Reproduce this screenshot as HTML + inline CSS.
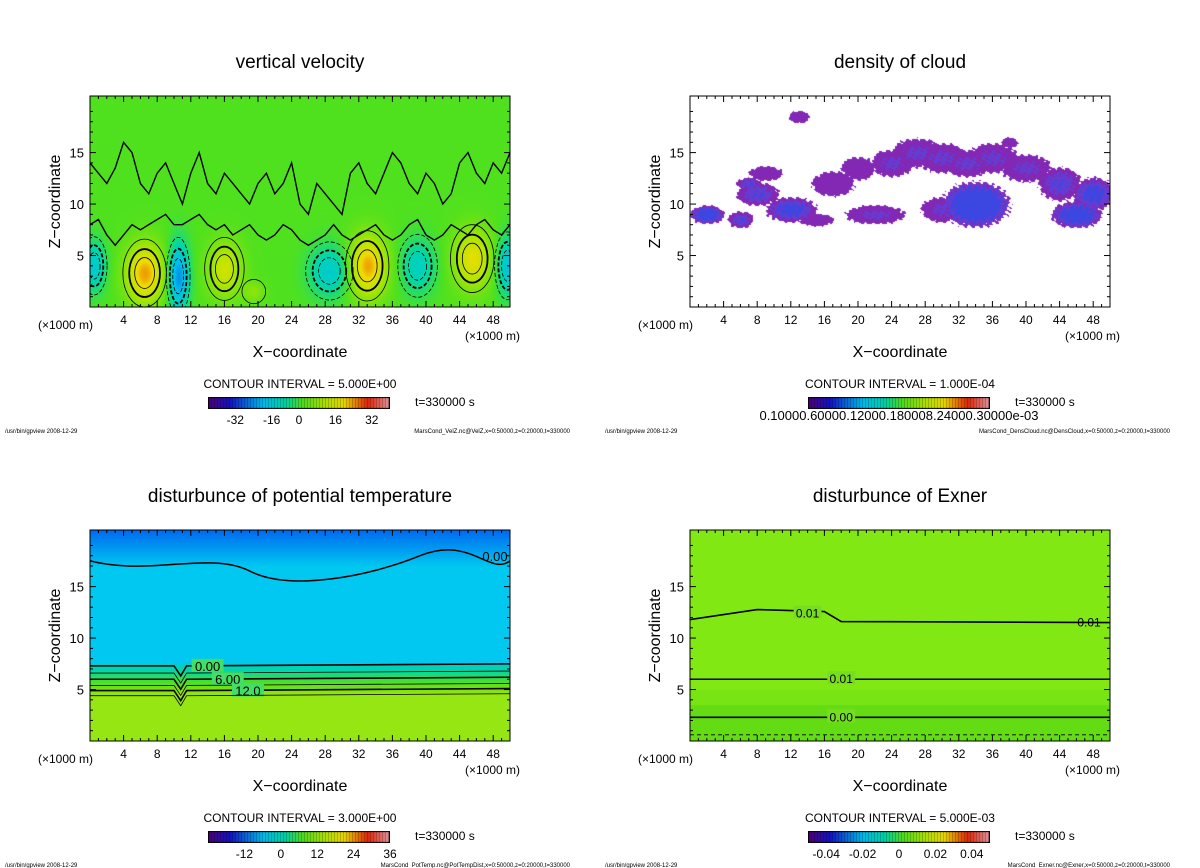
<!DOCTYPE html>
<html><head><meta charset="utf-8">
<style>
body{margin:0;background:#fff;width:1200px;height:868px;position:relative;overflow:hidden;font-family:"Liberation Sans",sans-serif}
canvas{position:absolute}
svg{position:absolute;left:0;top:0}
</style></head>
<body>
<canvas id="c1" style="left:90px;top:96px" width="420" height="211"></canvas>
<canvas id="c2" style="left:690px;top:96px" width="420" height="211"></canvas>
<canvas id="c3" style="left:90px;top:530px" width="420" height="211"></canvas>
<canvas id="c4" style="left:690px;top:530px" width="420" height="211"></canvas>
<canvas id="cb1" style="left:208px;top:397px" width="182" height="12"></canvas>
<canvas id="cb2" style="left:808px;top:397px" width="182" height="12"></canvas>
<canvas id="cb3" style="left:208px;top:831px" width="182" height="12"></canvas>
<canvas id="cb4" style="left:808px;top:831px" width="182" height="12"></canvas>
<svg id="s" width="1200" height="868"><defs><clipPath id="clip"><rect x="0" y="0" width="420" height="211"/></clipPath></defs></svg>
<script>
// ---- data ----
const xTicks=[4,8,12,16,20,24,28,32,36,40,44,48];
const zTicks=[5,10,15];
const titles=["vertical velocity","density of cloud","disturbunce of potential temperature","disturbunce of Exner"];
const intervals=["5.000E+00","1.000E-04","3.000E+00","5.000E-03"];
const files=["MarsCond_VelZ.nc@VelZ,x=0:50000,z=0:20000,t=330000","MarsCond_DensCloud.nc@DensCloud,x=0:50000,z=0:20000,t=330000","MarsCond_PotTemp.nc@PotTempDist,x=0:50000,z=0:20000,t=330000","MarsCond_Exner.nc@Exner,x=0:50000,z=0:20000,t=330000"];
const cbLabels=[["-32","-16","0","16","32"],["0.10000.60000.12000.180008.24000.30000e-03"],["-12","0","12","24","36"],["-0.04","-0.02","0","0.02","0.04"]];
const cbPos=[[0.15,0.35,0.5,0.7,0.9],[0.5],[0.2,0.4,0.6,0.8,1.0],[0.1,0.3,0.5,0.7,0.9]];
// velocity blobs
const velX=[6.5,16,33,45.5,19.5,10.5,28.5,39,49.7,0.5];
const velZ=[3.3,3.7,4.0,4.7,1.5,3.0,3.5,4.0,4.0,4.0];
const velA=[22,14,22,17,6,-22,-13,-11,-15,-13];
const velSX=[2.2,2.0,2.2,2.2,1.2,1.2,2.4,2.0,1.3,1.3];
const velSZ=[2.8,2.6,2.9,2.8,1.0,3.2,2.4,2.6,2.8,2.4];
// zero contour height profiles (z at x=0,1,...,50)
const velZero=[14,13,12,13.5,16,15,12,11,13,14,12,10,13,15,12,11,13,12,11,10,12,13,11,12,14,10,9,12,11,10,9,13,14,12,11,13,15,14,12,11,13,12,10,11,14,15,13,12,14,13,15];
const velZero2=[8,8.5,7,6,7,8,7.5,8,8.5,9,8,8,8.5,9,8,7.5,8,7,7.5,8,7,6.5,7,8,7.5,6.5,6,6.5,7,8,7,6.5,7,7.5,8,7,6.5,7,8,8.5,7,6.5,7,8,7.5,7,8,8.5,7.5,7,8];
// cloud blobs
const cldX=[2,6,8,12,9,17,20,24,27,30,33,36,40,44,48,30,34,13,22,38,46,7,15];
const cldZ=[9,8.5,11,9.5,13,12,13.5,14,15,14.5,14,14.5,13.5,12,11,9.5,10,18.5,9,16,9,12,8.5];
const cldW=[2,1.5,2.5,3,2,2.5,2,2.5,3,3,3,3,3,2.5,2.5,2.5,4,1.2,3.5,1,3,1.5,2];
const cldH=[0.9,0.8,1.1,1.2,0.7,1.2,1.1,1.3,1.4,1.4,1.3,1.4,1.3,1.6,1.6,1.2,2.2,0.6,0.9,0.5,1.3,0.6,0.6];
const cldI=[0.8,0.6,0.6,0.7,0.4,0.4,0.4,0.5,0.5,0.5,0.5,0.5,0.5,0.6,0.7,0.5,0.9,0.3,0.5,0.3,0.8,0.6,0.4];
const ptLevels=[7.3,6.6,6.0,5.4,4.9,4.4];
const ptLabels=["0.00","","6.00","","12.0",""];
const exLevels=[11.8,6.0,2.3,0.6];
const exLabels=["0.01","0.01","0.00",""];
// ---- helpers ----
const W=420,H=211,XM=50,ZM=20.5;
const sx=x=>x/XM*W, sz=z=>H-z/ZM*H;
const NS='http://www.w3.org/2000/svg';
const svg=document.getElementById('s');
function el(tag,attrs,parent){const e=document.createElementNS(NS,tag);for(const k in attrs)e.setAttribute(k,attrs[k]);(parent||svg).appendChild(e);return e;}
function txt(x,y,s,size,anchor,name,parent){const t=el('text',{x:x,y:y,'font-size':size,'text-anchor':anchor||'middle','font-family':'Liberation Sans, sans-serif',fill:'#000'},parent);t.textContent=s;return t;}
function rainbow(t){t=Math.max(0,Math.min(1,t));
 const st=[[0,[80,0,120]],[0.12,[20,20,200]],[0.3,[0,190,240]],[0.42,[0,215,170]],[0.52,[80,225,30]],[0.65,[180,230,0]],[0.75,[240,220,0]],[0.88,[230,40,10]],[1,[230,150,160]]];
 for(let i=1;i<st.length;i++){if(t<=st[i][0]){const a=st[i-1],b=st[i];const f=(t-a[0])/(b[0]-a[0]);return a[1].map((v,j)=>Math.round(v+(b[1][j]-v)*f));}}return st[st.length-1][1];}
function fill(id,fn){const c=document.getElementById(id).getContext('2d');const im=c.createImageData(W,H);
 for(let j=0;j<H;j++)for(let i=0;i<W;i++){const x=i/W*XM,z=(H-j)/H*ZM;const col=fn(x,z);const k=(j*W+i)*4;im.data[k]=col[0];im.data[k+1]=col[1];im.data[k+2]=col[2];im.data[k+3]=255;}
 c.putImageData(im,0,0);}
function velAt(x,z){let v=0;for(let k=0;k<velX.length;k++){const dx=(x-velX[k])/velSX[k],dz=(z-velZ[k])/velSZ[k];v+=velA[k]*Math.exp(-(dx*dx+dz*dz));}return v;}
fill('c1',(x,z)=>rainbow(0.52+velAt(x,z)/80));
fill('c2',(x,z)=>{let v=0;for(let k=0;k<cldX.length;k++){const dx=(x-cldX[k])/cldW[k],dz=(z-cldZ[k])/cldH[k];const d=dx*dx+dz*dz+0.25*Math.sin(x*7+z*5)*Math.sin(z*9);if(d<1)v=Math.max(v,cldI[k]*(1-d*0.6)+0.3);}
 if(v===0)return[255,255,255];return v>0.9?[60,70,225]:(v>0.75?[100,60,210]:[130,40,180]);});
fill('c3',(x,z)=>{if(z<4.5)return[150,230,20];if(z<7.5){const f=(z-4.5)/3;return rainbow(0.62-f*0.25);}
 const top=z>17?(z-17)/3:0;return [0,Math.round(200-top*80),240];});
fill('c4',(x,z)=>z<3.5?[100,220,20]:(z<5?[120,228,20]:[130,232,20]));
['cb1','cb2','cb3','cb4'].forEach(id=>{const c=document.getElementById(id).getContext('2d');for(let i=0;i<182;i++){const col=rainbow(i/181);const d=(i%3===0)?0.7:1;c.fillStyle=`rgb(${col.map(v=>Math.round(v*d)).join(',')})`;c.fillRect(i,0,1,12);}c.strokeStyle='#000';c.strokeRect(0.5,0.5,181,11);});
const panels=[[90,96],[690,96],[90,530],[690,530]];
const clipped=[];
panels.forEach((p,n)=>{
 const g=el('g',{transform:`translate(${p[0]},${p[1]})`});
 const cg=el('g',{'clip-path':'url(#clip)'},g);clipped.push(cg);
 const fr=el('rect',{x:0,y:0,width:W,height:H,fill:'none',stroke:'#000','stroke-width':1},g);
 xTicks.forEach(t=>{el('line',{x1:sx(t),x2:sx(t),y1:H,y2:H-6,stroke:'#000'},g);el('line',{x1:sx(t),x2:sx(t),y1:0,y2:6,stroke:'#000'},g);txt(sx(t),H+17,String(t),12,'middle','x-tick-label',g);});
 for(let t=1;t<50;t++)if(t%4){el('line',{x1:sx(t),x2:sx(t),y1:H,y2:H-3,stroke:'#000'},g);el('line',{x1:sx(t),x2:sx(t),y1:0,y2:3,stroke:'#000'},g);}
 zTicks.forEach(t=>{el('line',{x1:0,x2:6,y1:sz(t),y2:sz(t),stroke:'#000'},g);el('line',{x1:W,x2:W-6,y1:sz(t),y2:sz(t),stroke:'#000'},g);txt(-6,sz(t)+5,String(t),13,'end','z-tick-label',g);});
 for(let t=1;t<20;t++)if(t%5){el('line',{x1:0,x2:3,y1:sz(t),y2:sz(t),stroke:'#000'},g);el('line',{x1:W,x2:W-3,y1:sz(t),y2:sz(t),stroke:'#000'},g);}
 txt(-52,H+22,'(×1000 m)',12,'start','x-unit-left',g);
 txt(W+10,H+33,'(×1000 m)',12,'end','x-unit-right',g);
 txt(W/2,H+50,'X−coordinate',16,'middle','x-axis-title',g);
 const yt=txt(0,0,'Z−coordinate',16,'middle','y-axis-title',g);yt.setAttribute('transform',`translate(-30,${H/2}) rotate(-90)`);
 txt(W/2,-28,titles[n],19,'middle','chart-title',g);
 txt(W/2,H+81,'CONTOUR INTERVAL = '+intervals[n],12,'middle','contour-interval-label',g);
 txt(325,H+99,'t=330000 s',12,'start','time-label',g);
 const L=cbLabels[n],P=cbPos[n];L.forEach((s,i)=>txt(118+P[i]*182,H+(n===1?113:117),s,n===1?13:12,'middle','colorbar-tick-label',g));
 txt(-85,H+126,'/usr/bin/gpview  2008-12-29',6,'start','footer-program',g);
 txt(480,H+126,files[n],6,'end','footer-file',g);
});
// velocity contours
const g1=clipped[0];
velX.forEach((x,k)=>{const a=velA[k];[0.35,0.6,0.85].forEach((f,i)=>{if(Math.abs(a)*Math.sqrt(f)<5)return;const s=Math.sqrt(-Math.log(1-f+0.1));
 const e=el('ellipse',{cx:sx(x),cy:sz(velZ[k]),rx:velSX[k]*s*W/XM,ry:velSZ[k]*s*H/ZM,fill:'none',stroke:'#000','stroke-width':i===1?1.8:0.8,'stroke-dasharray':a<0?'4,2':'none'},g1);});});
[velZero,velZero2].forEach(arr=>{let d='M0,'+sz(arr[0]);arr.forEach((z,i)=>{d+=` L${sx(i)},${sz(z)}`;});
const zl=el('path',{d:d,fill:'none',stroke:'#000','stroke-width':1.4},g1);});
// potential temp contours
const g3=clipped[2];
ptLevels.forEach((z,i)=>{const y=sz(z);const l=el('path',{d:`M0,${y} L${sx(10)},${y} L${sx(10.8)},${y+10} L${sx(11.5)},${y} L${W},${y-2}`,fill:'none',stroke:'#000','stroke-width':i%2?0.8:1.6},g3);
 if(ptLabels[i]){const bx=sx(14+i*1.2);el('rect',{x:bx-16,y:y-7,width:32,height:13,fill:'#4d6'},g3);txt(bx,y+5,ptLabels[i],13,'middle','pottemp-contour-label',g3);}});
const up=el('path',{d:`M0,${sz(17.5)} C60,${sz(16)} 120,${sz(18.5)} 160,${sz(16.5)} S280,${sz(16)} 330,${sz(18)} S400,${sz(16)} ${W},${sz(17.5)}`,fill:'none',stroke:'#000','stroke-width':1.5},g3);
txt(405,sz(17.5),'0.00',13,'middle','pottemp-contour-label',g3);
// exner contours
const g4=clipped[3];
exLevels.forEach((z,i)=>{const y=sz(z);const dd=i===0?`M0,${y} L${sx(8)},${y-10} L${sx(16)},${y-8} L${sx(18)},${y+2} L${W},${y+3}`:`M0,${y} L${W},${y}`;
 const l=el('path',{d:dd,fill:'none',stroke:'#000','stroke-width':i===3?0.8:1.6,'stroke-dasharray':i===3?'4,3':'none'},g4);
 if(exLabels[i]){const bx=i===0?sx(14):sx(18);el('rect',{x:bx-14,y:y-8+(i===0?-6:0),width:28,height:13,fill:'#7d2'},g4);txt(bx,y+4+(i===0?-6:0),exLabels[i],12,'middle','exner-contour-label',g4);}});
txt(sx(47.5),sz(11.8)+7,'0.01',12,'middle','exner-contour-label',g4);
</script>
</body></html>
